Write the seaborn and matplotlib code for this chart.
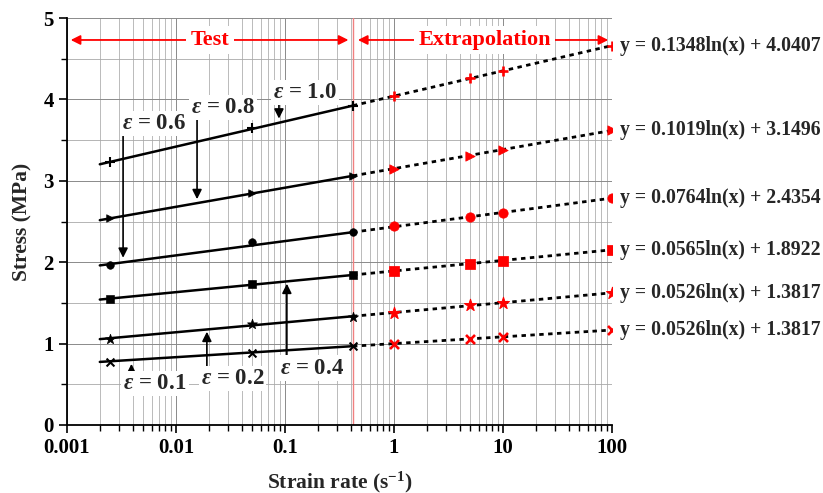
import numpy as np
import pandas as pd
import matplotlib
matplotlib.use("Agg")
import matplotlib.pyplot as plt
import seaborn as sns
from matplotlib.ticker import LogLocator, MultipleLocator, FuncFormatter, NullFormatter

# ---------------- data ----------------
strain_labels = ["1.0", "0.8", "0.6", "0.4", "0.2", "0.1"]
series_markers = ["+", ">", "o", "s", "*", "x"]

test_rates = [0.0025, 0.05, 0.42]
extrap_rates = [1, 5, 10, 100]

test_e10 = [3.23, 3.65, 3.92]
test_e08 = [2.54, 2.85, 3.06]
test_e06 = [1.97, 2.25, 2.37]
test_e04 = [1.55, 1.73, 1.84]
test_e02 = [1.06, 1.24, 1.33]
test_e01 = [0.78, 0.88, 0.97]

extrap_e10 = [4.04, 4.26, 4.35, 4.66]
extrap_e08 = [3.15, 3.31, 3.38, 3.62]
extrap_e06 = [2.44, 2.56, 2.61, 2.79]
extrap_e04 = [1.89, 1.98, 2.02, 2.15]
extrap_e02 = [1.38, 1.47, 1.50, 1.62]
extrap_e01 = [1.00, 1.06, 1.08, 1.17]

fit_slope = [0.1348, 0.1019, 0.0764, 0.0565, 0.0526, 0.0362]
fit_intercept = [4.0407, 3.1496, 2.4354, 1.8922, 1.3817, 1.0000]
equation_labels = [
    "y = 0.1348ln(x) + 4.0407",
    "y = 0.1019ln(x) + 3.1496",
    "y = 0.0764ln(x) + 2.4354",
    "y = 0.0565ln(x) + 1.8922",
    "y = 0.0526ln(x) + 1.3817",
    "y = 0.0526ln(x) + 1.3817",
]

test_range = [0.002, 0.42]
extrap_range = [0.42, 100]

test_sets = [test_e10, test_e08, test_e06, test_e04, test_e02, test_e01]
extrap_sets = [extrap_e10, extrap_e08, extrap_e06, extrap_e04, extrap_e02, extrap_e01]

# ---------------- style ----------------
sns.set_theme(style="ticks")
plt.rcParams["font.family"] = ["Liberation Serif", "DejaVu Serif"]
plt.rcParams["font.weight"] = "bold"
plt.rcParams["axes.labelweight"] = "bold"
plt.rcParams["mathtext.fontset"] = "custom"
plt.rcParams["mathtext.rm"] = "Liberation Serif:bold"
plt.rcParams["mathtext.it"] = "Liberation Serif:italic:bold"
plt.rcParams["mathtext.bf"] = "Liberation Serif:bold"

fig = plt.figure(figsize=(8.23, 4.93), dpi=100)
ax = fig.add_axes([67 / 823, 1 - 425 / 493, (612 - 67) / 823, (425 - 18) / 493])

ax.set_xscale("log")
ax.set_xlim(0.001, 100)
ax.set_ylim(0, 5)

# grid
ax.xaxis.set_major_locator(LogLocator(base=10, numticks=10))
ax.xaxis.set_minor_locator(LogLocator(base=10, subs=np.arange(2, 10), numticks=100))
ax.xaxis.set_major_formatter(FuncFormatter(lambda v, p: f"{v:g}"))
ax.xaxis.set_minor_formatter(NullFormatter())
ax.yaxis.set_major_locator(MultipleLocator(1))
ax.yaxis.set_minor_locator(MultipleLocator(0.5))
ax.grid(which="major", axis="x", color="#8a8a8a", lw=0.7)
ax.grid(which="minor", axis="x", color="#b0b0b0", lw=0.6)
ax.grid(which="major", axis="y", color="#8a8a8a", lw=0.7)
ax.grid(which="minor", axis="y", color="#a8a8a8", lw=0.6)
ax.set_axisbelow(True)

# separator line
ax.axvline(0.42, color="#f08080", lw=1.0, zorder=1)

for i in range(6):
    a, b = fit_slope[i], fit_intercept[i]
    ts = [a * np.log(v) + b for v in test_range]
    es = [a * np.log(v) + b for v in extrap_range]
    sns.lineplot(x=test_range, y=ts, color="black", lw=1.8, ax=ax, zorder=3)
    sns.lineplot(x=extrap_range, y=es, color="black", lw=2.0, ax=ax, zorder=3,
                 linestyle=(0, (1.6, 1.6)))
    m = series_markers[i]
    size = 55 if m in ("*",) else 30
    filled = m not in ("+", "x")
    if filled:
        sns.scatterplot(x=test_rates, y=test_sets[i], marker=m, color="black",
                        edgecolor="black", s=size, ax=ax, zorder=4)
        sns.scatterplot(x=extrap_rates, y=extrap_sets[i], marker=m, color="red",
                        edgecolor="red", s=size * 1.5, ax=ax, zorder=4)
    else:
        sns.scatterplot(x=test_rates, y=test_sets[i], marker=m, color="black",
                        s=32 if m == "x" else 45, linewidth=1.5, ax=ax, zorder=4)
        sns.scatterplot(x=extrap_rates, y=extrap_sets[i], marker=m, color="red",
                        s=42 if m == "x" else 55, linewidth=1.9, ax=ax, zorder=4)
    ax.text(1.015, extrap_sets[i][-1], equation_labels[i], transform=ax.get_yaxis_transform(),
            ha="left", va="center", fontsize=14.2, fontweight="bold", clip_on=False)

# strain annotations
ann_kw = dict(fontsize=16.5, fontweight="bold", ha="center", va="center",
              bbox=dict(facecolor="white", edgecolor="none", pad=1.5), zorder=6)
arrow_kw = dict(arrowstyle="-|>", color="black", lw=1.2, mutation_scale=14)
annotations = [
    # label, text pos, arrow tail, arrow head
    ("0.6", (0.0063, 3.70), (0.00327, 3.58), (0.00327, 2.02)),
    ("0.8", (0.027, 3.90), (0.0156, 3.80), (0.0156, 2.74)),
    ("1.0", (0.152, 4.08), (0.088, 3.98), (0.088, 3.73)),
    ("0.1", (0.0064, 0.51), (0.0039, 0.62), (0.0039, 0.785)),
    ("0.2", (0.033, 0.57), (0.0192, 0.68), (0.0192, 1.18)),
    ("0.4", (0.177, 0.70), (0.104, 0.82), (0.104, 1.77)),
]
for lab, tpos, tail, head in annotations:
    ax.annotate("", xy=head, xytext=tail, arrowprops=arrow_kw, zorder=5)
    ax.text(tpos[0], tpos[1], r"$\varepsilon$ = " + lab, **ann_kw)

# Test / Extrapolation
red_arrow = dict(arrowstyle="<|-|>", color="red", lw=1.3, mutation_scale=14)
ax.annotate("", xy=(0.00102, 4.73), xytext=(0.405, 4.73), arrowprops=red_arrow, zorder=5)
ax.annotate("", xy=(0.44, 4.73), xytext=(98, 4.73), arrowprops=red_arrow, zorder=5)
ax.text(0.0205, 4.73, "Test", color="red", fontsize=16, fontweight="bold",
        ha="center", va="center", bbox=dict(facecolor="white", edgecolor="none", pad=3), zorder=6)
ax.text(6.8, 4.73, "Extrapolation", color="red", fontsize=16, fontweight="bold",
        ha="center", va="center", bbox=dict(facecolor="white", edgecolor="none", pad=3), zorder=6)

# axes styling
sns.despine(ax=ax, top=True, right=True)
for s in ("left", "bottom"):
    ax.spines[s].set_color("black")
    ax.spines[s].set_linewidth(1.3)
ax.tick_params(axis="both", which="major", direction="out", length=6, width=1.2,
               labelsize=15, colors="black")
ax.tick_params(axis="both", which="minor", direction="out", length=4, width=1.0, colors="black")
for lbl in ax.get_xticklabels() + ax.get_yticklabels():
    lbl.set_fontweight("bold")

ax.set_xlabel(r"Strain rate (s$^{\mathbf{-1}}$)", fontsize=15.5, fontweight="bold", labelpad=8)
ax.set_ylabel("Stress (MPa)", fontsize=15.5, fontweight="bold", labelpad=8)

fig.savefig("out.png", dpi=100)
